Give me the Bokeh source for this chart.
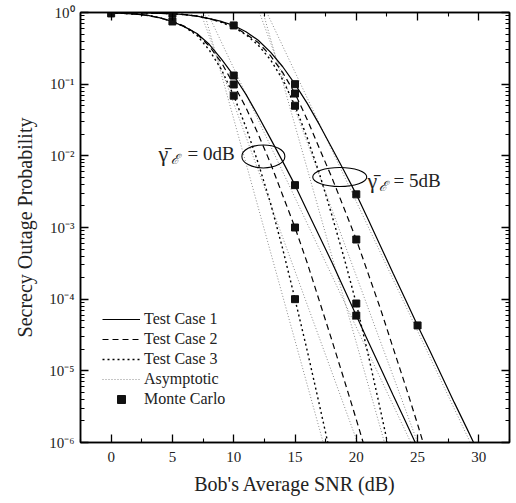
from bokeh.plotting import figure
from bokeh.models import (Range1d, FixedTicker, LinearAxis, LogAxis, Legend, LegendItem,
                          CustomJSTickFormatter)
from bokeh.core.properties import value
from bokeh.embed import file_html
from bokeh.resources import INLINE

FONT = "Liberation Serif"

# ---------------- data ----------------
# gamma_E = 0 dB
x_0db_tc1 = list(range(0, 26))
p_0db_tc1 = [0.986, 0.975, 0.95, 0.91, 0.84, 0.75, 0.63, 0.51, 0.36, 0.224, 0.132,
             0.072, 0.036, 0.0174, 0.0083, 0.0039, 0.0017, 7.5e-4, 3.3e-4, 1.4e-4, 5.9e-5,
             2.5e-5, 1.08e-5, 4.6e-6, 2.0e-6, 8.5e-7]
x_0db_tc2 = list(range(0, 22))
p_0db_tc2 = [0.986, 0.975, 0.95, 0.91, 0.84, 0.75, 0.64, 0.50, 0.34, 0.20, 0.099,
             0.047, 0.020, 0.0079, 0.0028, 1.0e-3, 3.2e-4, 9.3e-5, 2.7e-5, 7.6e-6, 2.1e-6,
             5.6e-7]
x_0db_tc3 = list(range(0, 19))
p_0db_tc3 = [0.986, 0.975, 0.95, 0.91, 0.84, 0.75, 0.63, 0.48, 0.30, 0.16, 0.069,
             0.025, 0.0079, 0.0022, 5.0e-4, 1.0e-4, 1.9e-5, 3.3e-6, 5.6e-7]

# gamma_E = 5 dB
x_5db_tc1 = list(range(0, 31))
p_5db_tc1 = [0.996, 0.994, 0.99, 0.984, 0.975, 0.96, 0.935, 0.89, 0.82, 0.75, 0.66,
             0.54, 0.41, 0.28, 0.175, 0.10, 0.054, 0.027, 0.013, 0.0062, 0.0029,
             0.00126, 5.4e-4, 2.3e-4, 1.0e-4, 4.3e-5, 1.9e-5, 8.3e-6, 3.6e-6, 1.6e-6, 7.0e-7]
x_5db_tc2 = list(range(0, 27))
p_5db_tc2 = [0.996, 0.994, 0.99, 0.984, 0.975, 0.96, 0.935, 0.89, 0.82, 0.74, 0.64,
             0.50, 0.38, 0.25, 0.145, 0.074, 0.032, 0.0126, 0.005, 0.00186, 6.8e-4,
             2.2e-4, 7.1e-5, 2.1e-5, 6.3e-6, 1.8e-6, 4.9e-7]
x_5db_tc3 = list(range(0, 24))
p_5db_tc3 = [0.996, 0.994, 0.99, 0.984, 0.975, 0.96, 0.935, 0.89, 0.82, 0.73, 0.62,
             0.49, 0.35, 0.22, 0.115, 0.050, 0.0178, 0.0056, 0.0015, 3.8e-4, 8.7e-5,
             1.6e-5, 2.7e-6, 4.3e-7]

# asymptotic (high-SNR) lines: end points
asym_x = [[7.85, 24.45], [7.3, 20.1], [7.6, 17.3], [12.7, 29.3], [12.1, 25.0], [12.4, 22.3]]
asym_p = [[1.0, 1e-6]] * 6

# Monte Carlo points
mc_x = [0, 5, 10, 10, 10, 15, 15, 15, 20,
        5, 10, 15, 15, 15, 20, 20, 20, 25]
mc_p = [0.97, 0.75, 0.132, 0.099, 0.069, 0.0039, 0.001, 1.0e-4, 5.9e-5,
        0.96, 0.66, 0.10, 0.074, 0.050, 0.0029, 6.8e-4, 8.7e-5, 4.3e-5]

x_major = [0, 5, 10, 15, 20, 25, 30]
x_minor = [-2.5, 2.5, 7.5, 12.5, 17.5, 22.5, 27.5, 32.5]
y_major = [1e-6, 1e-5, 1e-4, 1e-3, 1e-2, 1e-1, 1.0]
y_minor = [k * 10.0 ** e for e in range(-6, 0) for k in range(2, 10)]

# ---------------- figure ----------------
p = figure(width=513, height=498, x_range=Range1d(-2.5, 32.5), y_range=Range1d(1e-6, 1.0),
           y_axis_type="log", output_backend="svg", toolbar_location=None,
           min_border_left=80, min_border_right=4, min_border_top=12, min_border_bottom=56)
p.background_fill_color = "white"
p.border_fill_color = "white"
p.outline_line_color = "black"
p.outline_line_width = 1.5
p.xgrid.visible = False
p.ygrid.visible = False

xt = FixedTicker(ticks=x_major, minor_ticks=x_minor)
yt = FixedTicker(ticks=y_major, minor_ticks=y_minor)

sup_fmt = CustomJSTickFormatter(code="""
const e = Math.round(Math.log10(tick));
const m = {'0':'\u2070','1':'\u00b9','2':'\u00b2','3':'\u00b3','4':'\u2074','5':'\u2075','6':'\u2076','-':'\u207b'};
return '10' + String(e).split('').map(c => m[c]).join('');
""")
empty_fmt = CustomJSTickFormatter(code="return '';")


def style_axis(ax):
    ax.axis_line_width = 1.5
    ax.major_tick_in = 8
    ax.major_tick_out = 0
    ax.minor_tick_in = 4
    ax.minor_tick_out = 0
    ax.major_tick_line_width = 1.3
    ax.minor_tick_line_width = 1.1
    ax.major_label_text_font = FONT
    ax.major_label_text_font_size = "15px"
    ax.major_label_text_color = "#222222"
    ax.axis_label_text_font = FONT
    ax.axis_label_text_font_size = "20px"
    ax.axis_label_text_font_style = "normal"
    ax.axis_label_text_color = "#222222"


xa = p.xaxis[0]
xa.ticker = xt
xa.axis_label = "Bob's Average SNR (dB)"
style_axis(xa)
xa.major_label_standoff = 9
xa.axis_label_standoff = 8

ya = p.yaxis[0]
ya.ticker = yt
ya.formatter = sup_fmt
ya.axis_label = "Secrecy Outage Probability"
style_axis(ya)
ya.major_label_standoff = 6
ya.axis_label_standoff = 10

top = LinearAxis(ticker=xt, formatter=empty_fmt)
style_axis(top)
top.major_label_standoff = 0
p.add_layout(top, "above")
right = LogAxis(ticker=yt, formatter=empty_fmt)
style_axis(right)
right.major_label_standoff = 0
p.add_layout(right, "right")

# ---------------- curves ----------------
asym_rs = []
for ax_, ap_ in zip(asym_x, asym_p):
    asym_rs.append(p.line(ax_, ap_, line_color="#8c8c8c", line_width=1.0, line_dash="1 2"))

r_tc1 = p.line(x_0db_tc1, p_0db_tc1, line_color="black", line_width=1.2)
p.line(x_5db_tc1, p_5db_tc1, line_color="black", line_width=1.2)
r_tc2 = p.line(x_0db_tc2, p_0db_tc2, line_color="black", line_width=1.2, line_dash="6 4")
p.line(x_5db_tc2, p_5db_tc2, line_color="black", line_width=1.2, line_dash="6 4")
r_tc3 = p.line(x_0db_tc3, p_0db_tc3, line_color="black", line_width=1.4, line_dash="2 3")
p.line(x_5db_tc3, p_5db_tc3, line_color="black", line_width=1.4, line_dash="2 3")

r_mc = p.scatter(mc_x, mc_p, marker="square", size=7, fill_color="#111111", line_color="#111111")

# ---------------- annotations ----------------
p.ellipse(x=[12.42, 18.65], y=[0.0098, 0.00507], width=[43, 54], height=[23, 19],
          width_units="screen", height_units="screen",
          fill_color=None, line_color="black", line_width=1.1)

p.text(x=[3.87, 20.92], y=[0.0108, 0.00453], text=["\u03b3\u0304", "\u03b3\u0304"],
       text_font=value(FONT), text_font_size="22px", text_baseline="alphabetic",
       text_color="#222222")
p.text(x=[4.86, 21.82], y=[0.0089, 0.00373], text=["\u2130", "\u2130"],
       text_font=value(FONT), text_font_size="14px", text_font_style="italic",
       text_baseline="alphabetic", text_color="#222222")
p.text(x=[6.23, 23.04], y=[0.0108, 0.00453], text=["= 0dB", "= 5dB"],
       text_font=value(FONT), text_font_size="19px", text_baseline="alphabetic",
       text_color="#222222")

# ---------------- legend ----------------
legend = Legend(items=[
    LegendItem(label="Test Case 1", renderers=[r_tc1]),
    LegendItem(label="Test Case 2", renderers=[r_tc2]),
    LegendItem(label="Test Case 3", renderers=[r_tc3]),
    LegendItem(label="Asymptotic", renderers=[asym_rs[0]]),
    LegendItem(label="Monte Carlo", renderers=[r_mc]),
], location=(22, 33))
legend.border_line_color = None
legend.background_fill_alpha = 0
legend.glyph_width = 38
legend.glyph_height = 20
legend.label_height = 20
legend.label_standoff = 4
legend.spacing = 0
legend.padding = 0
legend.margin = 0
legend.label_text_font = FONT
legend.label_text_font_size = "16px"
legend.label_text_color = "#222222"
p.add_layout(legend, "center")

open("out.html", "w").write(file_html(p, INLINE))
